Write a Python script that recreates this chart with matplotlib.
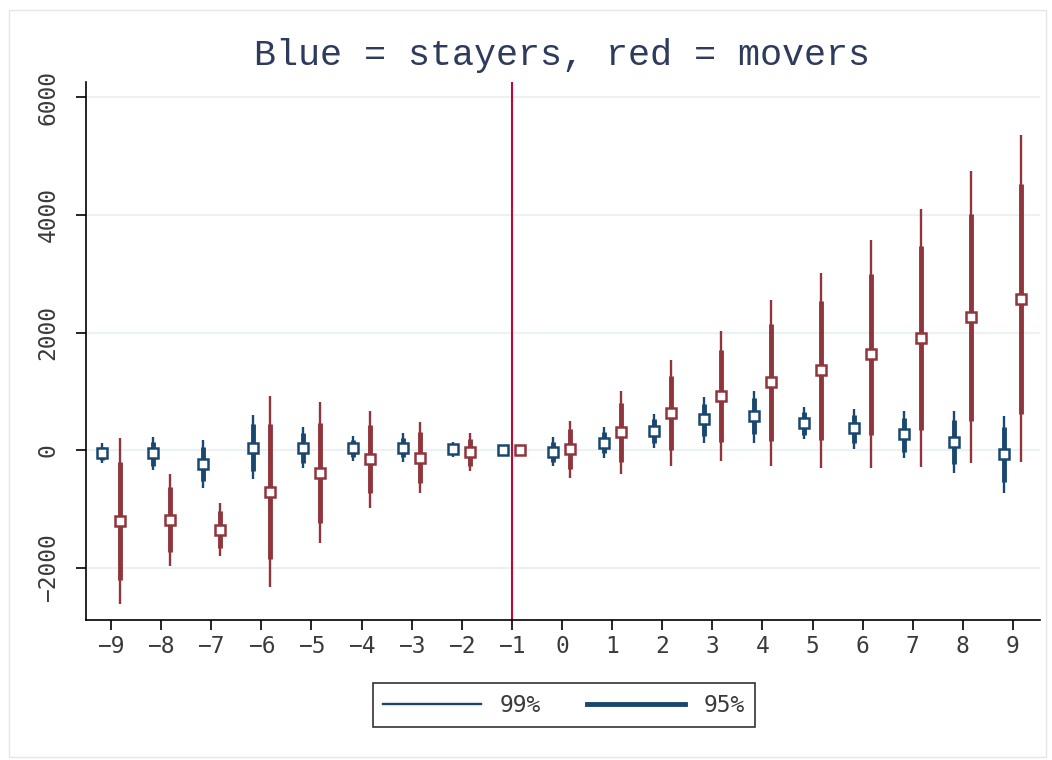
import matplotlib
matplotlib.use('Agg')
import matplotlib.pyplot as plt
from matplotlib.lines import Line2D
from matplotlib.patches import Rectangle

# event time
periods = [-9, -8, -7, -6, -5, -4, -3, -2, -1, 0, 1, 2, 3, 4, 5, 6, 7, 8, 9]

# stayers (blue)
blue_est = [-46, -57, -238, 40, 40, 28, 40, 11, 0, -28, 125, 323, 521, 578, 465, 368, 266, 130, -74]
blue_lo95 = [-170, -267, -521, -351, -215, -125, -125, -68, 0, -198, -57, 113, 238, 266, 255, 113, -28, -244, -538]
blue_hi95 = [56, 141, 56, 436, 295, 170, 198, 102, 0, 141, 300, 521, 782, 878, 640, 595, 550, 510, 385]
blue_lo99 = [-220, -340, -652, -499, -312, -181, -199, -113, 0, -272, -130, 28, 125, 125, 181, 17, -142, -397, -737]
blue_hi99 = [120, 216, 170, 595, 397, 238, 283, 141, 0, 227, 385, 606, 895, 1008, 725, 691, 663, 663, 578]

# movers (red)
red_est = [-1207, -1190, -1360, -708, -385, -159, -130, -40, 0, 11, 300, 635, 924, 1162, 1360, 1632, 1910, 2267, 2578]
red_lo95 = [-2210, -1739, -1672, -1853, -1235, -737, -567, -272, 0, -329, -198, 0, 142, 153, 170, 255, 340, 493, 612]
red_hi95 = [-199, -634, -1037, 436, 465, 425, 300, 187, 0, 351, 793, 1258, 1700, 2153, 2538, 3003, 3468, 4023, 4533]
red_lo99 = [-2623, -1966, -1802, -2323, -1587, -980, -737, -351, 0, -482, -408, -266, -181, -266, -312, -312, -295, -227, -198]
red_hi99 = [199, -408, -907, 918, 822, 663, 482, 283, 0, 499, 1008, 1530, 2023, 2561, 3020, 3570, 4108, 4748, 5355]

yticks = [-2000, 0, 2000, 4000, 6000]

BLUE = '#1a476f'
RED = '#90353b'
mono = 'Liberation Mono'
tickfont = 'DejaVu Sans Mono'

fig = plt.figure(figsize=(10.52, 7.6), dpi=100)
fig.patches.append(Rectangle((0.009, 0.004), 0.985, 0.983, transform=fig.transFigure,
                             fill=False, edgecolor='#e6e6e6', linewidth=1))
ax = fig.add_axes([0.0817, 0.1842, 0.9069, 0.7078])

off = 0.17
xb = [p - off for p in periods]
xr = [p + off for p in periods]

for ax_x, est, lo95, hi95, lo99, hi99, c in [
        (xb, blue_est, blue_lo95, blue_hi95, blue_lo99, blue_hi99, BLUE),
        (xr, red_est, red_lo95, red_hi95, red_lo99, red_hi99, RED)]:
    ax.vlines(ax_x, lo99, hi99, color=c, linewidth=1.7, zorder=3)
    ax.vlines(ax_x, lo95, hi95, color=c, linewidth=3.5, zorder=3)
    ax.plot(ax_x, est, linestyle='none', marker='s', markersize=7.5,
            markerfacecolor='white', markeredgecolor=c, markeredgewidth=1.8, zorder=4)

ax.axvline(-1, color='#c10534', linewidth=1.5, zorder=2)

ax.set_xlim(-9.5, 9.54)
ax.set_ylim(-2890, 6260)
ax.set_xticks(periods)
ax.set_xticklabels([str(p).replace('-', '\u2212') for p in periods])
ax.set_yticks(yticks)
ax.set_yticklabels([str(t).replace('-', '\u2212') for t in yticks], rotation=90, va='center')
for t in yticks:
    ax.axhline(t, color='#eaf2f3', linewidth=1.5, zorder=1)

for s in ['top', 'right']:
    ax.spines[s].set_visible(False)
ax.spines['left'].set_linewidth(1.2)
ax.spines['bottom'].set_linewidth(1.2)
ax.tick_params(direction='out', length=7, width=1.2, labelsize=16.5, labelcolor='#3a3a3a')
ax.tick_params(axis='x', pad=4)
ax.tick_params(axis='y', pad=12)
for lab in ax.get_xticklabels() + ax.get_yticklabels():
    lab.set_family(tickfont)

fig.text(0.534, 0.927, 'Blue = stayers, red = movers', ha='center', va='center',
         fontsize=26.5, family=mono, color='#2f3b5c')

handles = [Line2D([], [], color=BLUE, linewidth=1.7),
           Line2D([], [], color=BLUE, linewidth=3.5)]
leg = fig.legend(handles, ['99%', '95%'], loc='center', bbox_to_anchor=(0.536, 0.072),
                 ncol=2, frameon=True, fancybox=False, edgecolor='black',
                 prop={'family': tickfont, 'size': 16.5}, handlelength=4.3, handletextpad=0.8,
                 columnspacing=2.0, borderpad=0.45)
leg.get_frame().set_linewidth(1.2)
for t in leg.get_texts():
    t.set_color('#3a3a3a')

fig.savefig('out.png', dpi=100, facecolor='white')
